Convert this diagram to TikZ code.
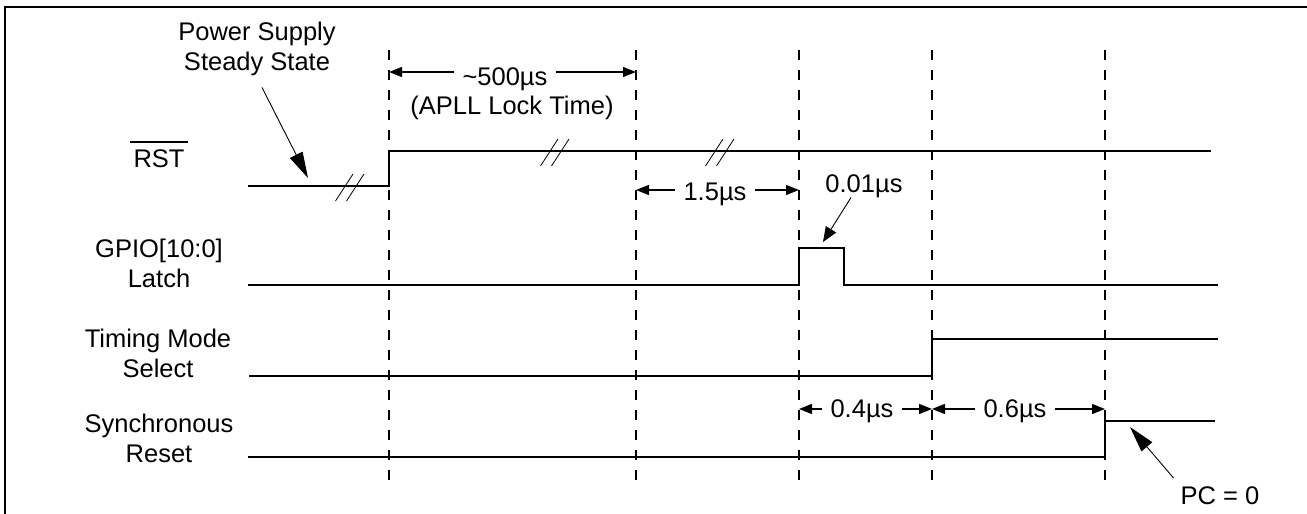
\documentclass[tikz,border=0pt]{standalone}
\usepackage{fontspec}
\setmainfont{Liberation Sans}
\usepackage{tikz}
\usetikzlibrary{arrows.meta}

\begin{document}
\begin{tikzpicture}[x=1pt, y=-1pt,
  every node/.style={font=\fontsize{25.5}{30}\selectfont, inner sep=0pt},
  sig/.style={line width=1.7pt},
  grid/.style={line width=1.6pt, dash pattern=on 10pt off 10pt},
  dim/.style={line width=1.4pt, -{Triangle[length=13pt,width=10pt]}},
  note/.style={line width=0.9pt, -{Triangle[length=26pt,width=14pt]}},
  brk/.style={line width=0.8pt},
  lbl/.style={align=center, anchor=base},
  val/.style={anchor=base, inner xsep=8pt}]
\useasboundingbox (0,0) rectangle (1307,514);
\draw[line width=2.6pt] (5,514) -- (5,7) -- (1307,7);

% time marks
\foreach \n/\x in {1/389, 2/636, 3/799, 4/932, 5/1105} {
  \coordinate (t\n) at (\x,50);
  \coordinate (b\n) at (\x,488);
  \draw[grid] (t\n) -- (b\n);
}

% signal names (base = last line)
\node[lbl] (rstname) at (159,167) {RST};
\draw[line width=1.3pt] ([xshift=-3pt,yshift=7pt]rstname.north west) -- ([xshift=3pt,yshift=7pt]rstname.north east);
\node[lbl] (gpioname) at (159,287) {GPIO[10:0]\\Latch};
\node[lbl] (tmsname) at (158,377) {Timing Mode\\Select};
\node[lbl] (srstname) at (159,462) {Synchronous\\Reset};

% waveforms
\draw[sig] (248,186) -- (389,186) -- (389,151) -- (1211,151);
\draw[sig] (248,285) -- (799,285) -- (799,248) -- (844,248) -- (844,285) -- (1218,285);
\draw[sig] (249,376) -- (932,376) -- (932,339) -- (1218,339);
\draw[sig] (248,457) -- (1105,457) -- (1105,421) -- (1215,421);

% breaks
\foreach \x/\y in {350/186, 555/151, 720/151} {
  \draw[brk] (\x-14.5,\y+15) -- (\x+3,\y-12);
  \draw[brk] (\x-3.5,\y+15) -- (\x+14,\y-12);
}

% notes
\node[lbl] (psu) at (257,70) {Power Supply\\Steady State};
\coordinate (psutip) at (308,178);
\draw[note] ([xshift=5pt,yshift=-12pt]psu.south) -- (psutip);

\node[val] (pulse) at (864,192) {0.01µs};
\coordinate (pulsetip) at (823,242);
\draw[line width=0.9pt, -{Triangle[length=15pt,width=12pt]}] ([xshift=-13pt]pulse.south) -- (pulsetip);

\node[lbl] (pc) at (1220,504) {PC = 0};
\coordinate (pctip) at (1130,427);
\draw[note] ([xshift=-7pt,yshift=8pt]pc.north west) -- (pctip);

% durations
\node[val] (w500) at (505,85) {\textasciitilde500µs};
\node[lbl] (apll) at (512,114) {(APLL Lock Time)};
\coordinate (w500l) at (389,72);
\coordinate (w500r) at (636,72);
\draw[dim] (w500.west |- w500l) -- (w500l);
\draw[dim] (w500.east |- w500r) -- (w500r);

\node[val] (w15) at (715,200) {1.5µs};
\coordinate (w15l) at (636,190);
\coordinate (w15r) at (799,190);
\draw[dim] (w15.west |- w15l) -- (w15l);
\draw[dim] (w15.east |- w15r) -- (w15r);

\node[val] (w04) at (862,417) {0.4µs};
\coordinate (w04l) at (799,409);
\coordinate (w04r) at (932,409);
\draw[dim] (w04.west |- w04l) -- (w04l);
\draw[dim] (w04.east |- w04r) -- (w04r);

\node[val] (w06) at (1015,417) {0.6µs};
\coordinate (w06l) at (932,409);
\coordinate (w06r) at (1105,409);
\draw[dim] (w06.west |- w06l) -- (w06l);
\draw[dim] (w06.east |- w06r) -- (w06r);
\end{tikzpicture}
\end{document}
